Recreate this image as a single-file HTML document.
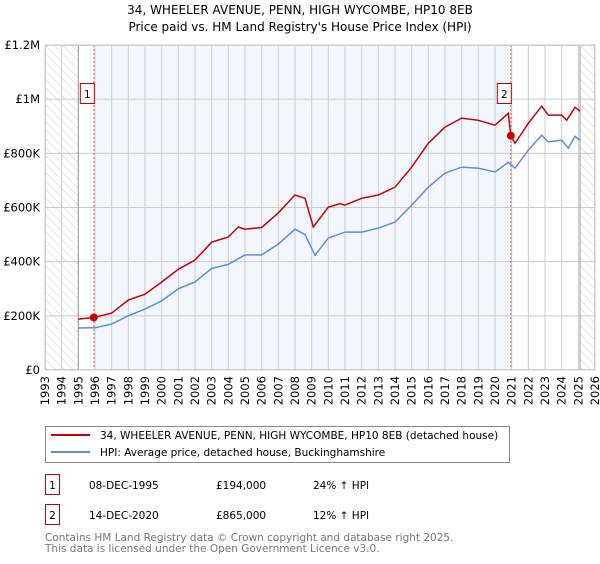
<!DOCTYPE html>
<html><head><meta charset="utf-8">
<style>
body{margin:0;background:#fff;font-family:"DejaVu Sans","Liberation Sans",sans-serif;}
svg text{font-family:"DejaVu Sans","Liberation Sans",sans-serif;}
</style></head>
<body>
<svg id="chart" width="600" height="560" viewBox="0 0 600 560" xmlns="http://www.w3.org/2000/svg">
<defs>
<pattern id="hatch" width="6" height="6" patternUnits="userSpaceOnUse" patternTransform="rotate(-45)">
<rect width="6" height="6" fill="#fff"/><line x1="0" y1="0" x2="0" y2="6" stroke="#ccc" stroke-width="1"/>
</pattern>
</defs>
<text x="300" y="14" text-anchor="middle" font-size="12" fill="#000">34, WHEELER AVENUE, PENN, HIGH WYCOMBE, HP10 8EB</text>
<text x="300" y="31" text-anchor="middle" font-size="12" fill="#000">Price paid vs. HM Land Registry's House Price Index (HPI)</text>
<g id="plot"></g>
<g id="legend">
<rect x="45.5" y="426.5" width="464" height="36" fill="#fff" stroke="#888"/>
<line x1="51" y1="435" x2="90" y2="435" stroke="#cc0000" stroke-width="2"/>
<text x="100" y="439" font-size="10.5">34, WHEELER AVENUE, PENN, HIGH WYCOMBE, HP10 8EB (detached house)</text>
<line x1="51" y1="452" x2="90" y2="452" stroke="#5b8fd4" stroke-width="2"/>
<text x="100" y="456" font-size="10.5">HPI: Average price, detached house, Buckinghamshire</text>
</g>
<g font-size="10.5">
<rect x="45.5" y="474.5" width="14" height="20" fill="#fff" stroke="#cc0000"/>
<text x="52.5" y="489" text-anchor="middle">1</text>
<text x="89" y="489">08-DEC-1995</text>
<text x="216" y="489">£194,000</text>
<text x="313" y="489">24% ↑ HPI</text>
<rect x="45.5" y="504.5" width="14" height="20" fill="#fff" stroke="#cc0000"/>
<text x="52.5" y="519" text-anchor="middle">2</text>
<text x="89" y="519">14-DEC-2020</text>
<text x="216" y="519">£865,000</text>
<text x="313" y="519">12% ↑ HPI</text>
</g>
<text x="45" y="541" font-size="10.5" fill="#777">Contains HM Land Registry data © Crown copyright and database right 2025.</text>
<text x="45" y="552" font-size="10.5" fill="#777">This data is licensed under the Open Government Licence v3.0.</text>
</svg>
<script>
const hpiYears=[1995.0,1996.0,1997.0,1998.0,1999.0,2000.0,2001.0,2002.0,2003.0,2004.0,2005.0,2006.0,2007.0,2008.0,2008.6,2009.2,2010.0,2011.0,2012.0,2013.0,2014.0,2015.0,2016.0,2017.0,2018.0,2019.0,2020.0,2020.8,2021.2,2022.0,2022.8,2023.2,2024.0,2024.4,2024.8,2025.1];
const hpiValues=[155000,156000,170000,200000,225000,255000,300000,325000,375000,390000,425000,425000,465000,520000,500000,424000,487000,509000,509000,524000,546000,609000,675000,727000,749000,745000,731000,767000,745000,812000,867000,842000,849000,819000,863000,849000];
const propYears=[1995.0,1995.93,1997.0,1998.0,1999.0,2000.0,2001.0,2002.0,2003.0,2004.0,2004.6,2005.0,2006.0,2007.0,2008.0,2008.6,2009.1,2010.0,2010.7,2011.0,2012.0,2013.0,2014.0,2015.0,2016.0,2017.0,2018.0,2019.0,2020.0,2020.8,2020.95,2021.2,2022.0,2022.8,2023.2,2024.0,2024.3,2024.8,2025.1];
const propValues=[188000,194000,210000,258000,280000,325000,372000,406000,472000,491000,528000,520000,526000,580000,646000,634000,528000,601000,614000,609000,634000,646000,675000,749000,837000,897000,930000,922000,904000,948000,865000,837000,911000,974000,941000,941000,922000,970000,956000];
const yTicks=[0,200000,400000,600000,800000,1000000,1200000];
const yTickLabels=["£0","£200K","£400K","£600K","£800K","£1M","£1.2M"];
const xTicks=[1993,1994,1995,1996,1997,1998,1999,2000,2001,2002,2003,2004,2005,2006,2007,2008,2009,2010,2011,2012,2013,2014,2015,2016,2017,2018,2019,2020,2021,2022,2023,2024,2025,2026];
const sales=[{n:"1",year:1995.93,value:194000},{n:"2",year:2020.95,value:865000}];

const X0=45,X1=595,Y0=370,Y1=45;
const xs=y=>X0+(y-1993)/(2026-1993)*(X1-X0);
const ys=v=>Y0-v/1200000*(Y0-Y1);
const NS="http://www.w3.org/2000/svg";
const g=document.getElementById('plot');
function mk(t,a){const e=document.createElementNS(NS,t);for(const k in a)e.setAttribute(k,a[k]);g.appendChild(e);return e;}

let e;
e=mk('rect',{x:X0,y:Y1,width:X1-X0,height:Y0-Y1,fill:'#fff'});


e=mk('rect',{x:xs(sales[0].year),y:Y1,width:xs(sales[1].year)-xs(sales[0].year),height:Y0-Y1,fill:'#f2f6fd'});


e=mk('rect',{x:X0,y:Y1,width:xs(1995)-X0,height:Y0-Y1,fill:'url(#hatch)'});


e=mk('rect',{x:xs(2025.1),y:Y1,width:X1-xs(2025.1),height:Y0-Y1,fill:'url(#hatch)'});


xTicks.forEach(t=>{
  e=mk('line',{x1:xs(t),x2:xs(t),y1:Y1,y2:Y0,stroke:'#ccc','stroke-width':1});
  
  
  e=mk('text',{x:0,y:0,'font-size':11.5,'text-anchor':'end',transform:`translate(${xs(t)+4},${Y0+6}) rotate(-90)`});
  e.textContent=t;
  
  
});
yTicks.forEach((t,i)=>{
  e=mk('line',{x1:X0,x2:X1,y1:ys(t),y2:ys(t),stroke:'#ccc','stroke-width':1});
  
  
  e=mk('text',{x:X0-5,y:ys(t)+4,'font-size':11.5,'text-anchor':'end'});
  e.textContent=yTickLabels[i];
  
  
});
e=mk('line',{x1:xs(1995),x2:xs(1995),y1:Y1,y2:Y0,stroke:'#999','stroke-width':1});


e=mk('line',{x1:xs(2025.1),x2:xs(2025.1),y1:Y1,y2:Y0,stroke:'#999','stroke-width':1});


sales.forEach(s=>{
  e=mk('line',{x1:xs(s.year),x2:xs(s.year),y1:Y1,y2:Y0,stroke:'#e06060','stroke-width':1,'stroke-dasharray':'2,2'});
  
  
});
function path(xsA,vs){return xsA.map((y,i)=>(i?'L':'M')+xs(y).toFixed(1)+','+ys(vs[i]).toFixed(1)).join('');}
e=mk('path',{d:path(hpiYears,hpiValues),fill:'none',stroke:'#5b8fd4','stroke-width':1.5});


e=mk('path',{d:path(propYears,propValues),fill:'none',stroke:'#cc0000','stroke-width':1.5});


sales.forEach(s=>{
  e=mk('circle',{cx:xs(s.year),cy:ys(s.value),r:4,fill:'#cc0000'});
  
  
  e=mk('rect',{x:xs(s.year)-13.5,y:83.5,width:14,height:20,fill:'#fff',stroke:'#cc0000'});
  
  
  e=mk('text',{x:xs(s.year)-6.5,y:98,'font-size':10.5,'text-anchor':'middle'});
  e.textContent=s.n;
  
  
});
e=mk('rect',{x:X0+0.5,y:Y1+0.5,width:X1-X0-1,height:Y0-Y1-1,fill:'none',stroke:'#ccc'});


</script>
</body></html>
